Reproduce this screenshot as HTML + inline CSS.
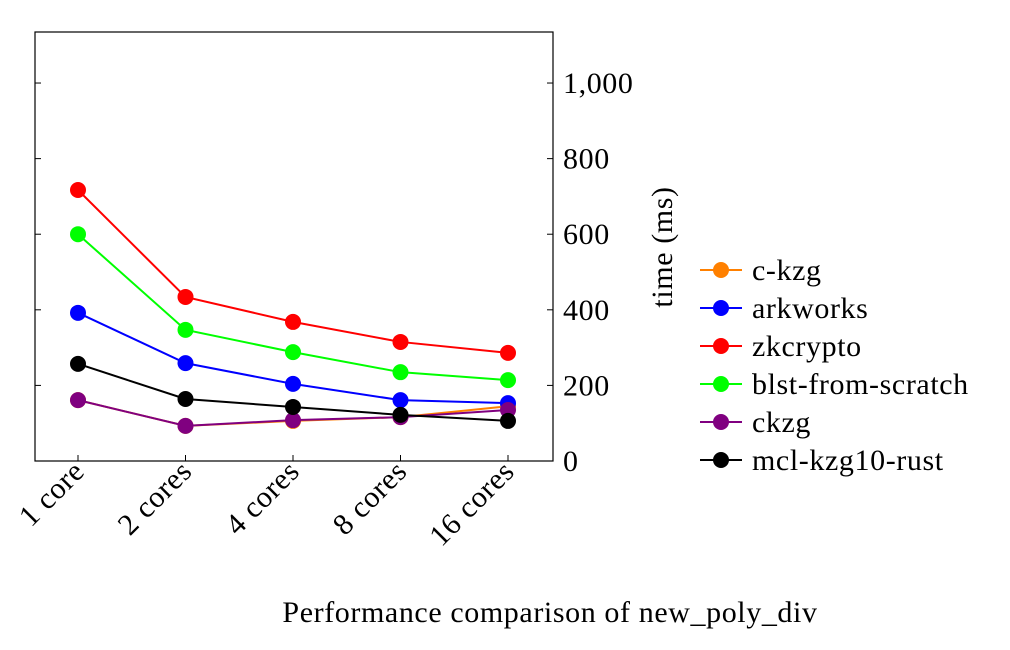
<!DOCTYPE html>
<html><head><meta charset="utf-8"><style>
body{margin:0;background:#fff;}
svg{display:block;font-family:"Liberation Serif",serif;}
svg text{letter-spacing:0.6px;}
</style></head><body>
<svg id="chart" width="1010" height="650" viewBox="0 0 1010 650">
<g id="grid"></g><g id="marks"></g><g id="legend"></g>
<text x="550" y="622" font-size="30" text-anchor="middle">Performance comparison of new_poly_div</text>
<text transform="translate(672,247) rotate(-90)" font-size="30" text-anchor="middle">time (ms)</text>
</svg>
<script>
const categories=["1 core","2 cores","4 cores","8 cores","16 cores"];
const yTicks=[0,200,400,600,800,1000];
const yTickLabels=["0","200","400","600","800","1,000"];
const seriesNames=["c-kzg","arkworks","zkcrypto","blst-from-scratch","ckzg","mcl-kzg10-rust"];
const seriesColors=["#ff8000","#0000ff","#ff0000","#00ff00","#800080","#000000"];
const ckzgA=[161,93,106,116,145];
const arkworks=[392,259,204,161,153];
const zkcrypto=[717,434,368,315,286];
const blst=[600,347,288,235,214];
const ckzgB=[161,93,108,116,135];
const mcl=[257,164,143,122,106];
const seriesValues=[ckzgA,arkworks,zkcrypto,blst,ckzgB,mcl];
const NS="http://www.w3.org/2000/svg";
const L=35,R=553,T=32,B=461,yMax=1135;
const x=i=>78+i*(508-78)/(categories.length-1);
const y=v=>B-v/yMax*(B-T);
function mk(tag,at,parent){const e=document.createElementNS(NS,tag);for(const k in at)e.setAttribute(k,at[k]);parent.appendChild(e);return e;}
const grid=document.getElementById('grid'),marks=document.getElementById('marks'),leg=document.getElementById('legend');
let box=mk('rect',{x:L,y:T,width:R-L,height:B-T,fill:'none',stroke:'#000','stroke-width':1.2},grid);


yTicks.forEach((v,i)=>{
 let t=mk('line',{x1:R-6,x2:R,y1:y(v),y2:y(v),stroke:'#000'},grid);
 
 
 let t2=mk('line',{x1:L,x2:L+6,y1:y(v),y2:y(v),stroke:'#000'},grid);
 
 
 let lb=mk('text',{x:563,y:y(v)+10,'font-size':30},grid);lb.textContent=yTickLabels[i];
 
 
});
categories.forEach((c,i)=>{
 let t=mk('line',{x1:x(i),x2:x(i),y1:B,y2:B-6,stroke:'#000'},grid);
 
 
 let lb=mk('text',{x:x(i)+8,y:B+12,'font-size':30,'text-anchor':'end',transform:`rotate(-45 ${x(i)+8} ${B+12})`},grid);lb.textContent=c;
 
 
});
seriesValues.forEach((vals,s)=>{
 let p=mk('polyline',{points:vals.map((v,i)=>x(i)+','+y(v)).join(' '),fill:'none',stroke:seriesColors[s],'stroke-width':2},marks);
 
 
 vals.forEach((v,i)=>{
  let c=mk('circle',{cx:x(i),cy:y(v),r:8,fill:seriesColors[s]},marks);
  
  
 });
 const ly=270+s*38;
 let g=mk('g',{},leg);
 
 
 mk('line',{x1:700,x2:742,y1:ly,y2:ly,stroke:seriesColors[s],'stroke-width':2},g);
 mk('circle',{cx:721,cy:ly,r:8,fill:seriesColors[s]},g);
 let t=mk('text',{x:752,y:ly+10,'font-size':30},g);t.textContent=seriesNames[s];
});
</script>
</body></html>
